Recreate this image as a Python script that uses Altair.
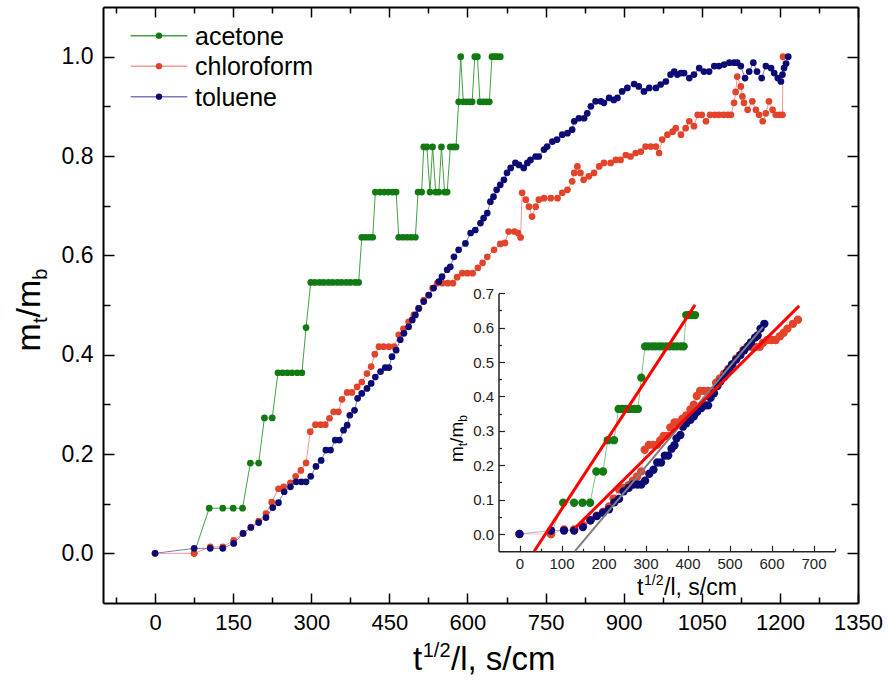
import altair as alt
import pandas as pd

FONT = "Liberation Sans"

series_names = ["acetone", "chloroform", "toluene"]
point_colors = ["#127a12", "#e2432b", "#0b0b73"]
line_colors = ["#44a044", "#f29a90", "#7a7ac0"]

acetone_x = [75, 104, 130, 150, 168, 183, 199, 210, 225, 236, 245, 254, 263, 273, 282, 290,
             299, 307, 316, 324, 333, 341, 350, 358, 367, 375, 384, 391,
             397, 404, 411, 418,
             423, 432, 440, 448, 456, 463,
             468, 476, 484, 492, 500, 505, 512,
             516, 522, 528, 533, 539, 545, 550, 556, 561, 567, 573, 578,
             583, 587, 592, 598, 604, 609, 614, 619, 624, 630, 636, 642, 647, 652, 657, 663]
acetone_y = [0.0, 0.0909, 0.0909, 0.0909, 0.0909, 0.1818, 0.1818, 0.2727, 0.2727,
             0.3636, 0.3636, 0.3636, 0.3636, 0.3636, 0.3636, 0.4545,
             0.5455, 0.5455, 0.5455, 0.5455, 0.5455, 0.5455, 0.5455, 0.5455, 0.5455, 0.5455, 0.5455, 0.5455,
             0.6364, 0.6364, 0.6364, 0.6364,
             0.7273, 0.7273, 0.7273, 0.7273, 0.7273, 0.7273,
             0.6364, 0.6364, 0.6364, 0.6364, 0.6364, 0.7273, 0.7273,
             0.8182, 0.8182, 0.7273, 0.8182, 0.7273, 0.7273, 0.8182, 0.7273, 0.7273, 0.8182, 0.8182, 0.8182,
             0.9091, 1.0, 0.9091, 0.9091, 0.9091, 0.9091, 1.0, 1.0, 0.9091, 0.9091, 0.9091, 0.9091,
             1.0, 1.0, 1.0, 1.0]

chloroform_x = [0, 75, 106, 130, 151, 169, 184, 199, 213, 224, 237, 247, 260, 270, 280, 290,
                298, 308, 318, 327, 335, 343, 352, 359, 369, 378, 388, 397, 407, 415, 422,
                430, 439, 449, 459, 468, 477, 487, 497, 507, 516, 525, 533, 542, 552, 562, 572,
                580, 590, 600, 610, 620, 629, 638, 651, 663, 672, 679, 690, 697, 702,
                705, 712, 718, 724, 731, 737, 747, 760, 773, 782, 792, 801, 805, 811, 817,
                823, 833, 843, 853, 862, 875, 885, 894, 904, 913, 923, 933, 942, 952, 962,
                968, 974, 984, 994, 1000, 1010, 1019, 1026, 1035, 1042, 1050, 1058, 1066,
                1075, 1083, 1092, 1100, 1106, 1112, 1115, 1118, 1125, 1128, 1131, 1138,
                1147, 1154, 1160, 1167, 1173, 1179, 1186, 1192, 1199, 1205, 1206]
chloroform_y = [0.0, 0.0, 0.013, 0.013, 0.026, 0.04, 0.053, 0.065, 0.08, 0.103, 0.13, 0.134,
                0.142, 0.155, 0.167, 0.182,
                0.245, 0.259, 0.259, 0.259, 0.272, 0.285, 0.285, 0.31, 0.324, 0.324, 0.335,
                0.345, 0.362, 0.376, 0.401,
                0.416, 0.416, 0.416, 0.416, 0.44, 0.452, 0.466, 0.48, 0.493, 0.51, 0.52,
                0.534, 0.544, 0.544, 0.544, 0.544,
                0.556, 0.564, 0.564, 0.564, 0.575, 0.585, 0.597, 0.611, 0.623, 0.625,
                0.648, 0.648, 0.645, 0.636,
                0.726, 0.712, 0.698, 0.678, 0.698, 0.712, 0.715, 0.715, 0.715, 0.726,
                0.732, 0.749, 0.766, 0.779, 0.766,
                0.752, 0.759, 0.766, 0.779, 0.786, 0.786, 0.792, 0.792, 0.802, 0.799,
                0.806, 0.809, 0.819, 0.819, 0.819,
                0.806, 0.833, 0.843, 0.849, 0.856, 0.843, 0.856, 0.87, 0.86, 0.883,
                0.883, 0.87, 0.883,
                0.883, 0.883, 0.883, 0.883, 0.883, 0.907, 0.929, 0.96, 0.94, 0.92,
                0.907, 0.893,
                0.91, 0.893, 0.883, 0.87, 0.886, 0.91, 0.893, 0.883, 0.883, 0.883, 1.0]

toluene_x = [0, 75, 106, 130, 151, 169, 184, 199, 213, 226, 237, 248, 260, 271, 281, 290,
             299, 309, 319, 328, 337, 346, 354, 362, 369, 374, 383, 389, 397, 407, 415,
             423, 433, 442, 449, 455, 463, 471, 478, 487, 494, 500, 506, 516, 526, 535,
             545, 551, 561, 567, 574, 583, 596, 606, 615, 625, 631, 638, 644, 650, 656,
             663, 670, 676, 683, 692, 699, 708, 715, 721, 731, 737, 747, 753, 763, 772,
             782, 792, 801, 805, 814, 824, 830, 837, 846, 856, 862, 872, 881, 888, 897,
             907, 920, 929, 939, 949, 962, 971, 981, 990, 997, 1003, 1010, 1016, 1026,
             1035, 1045, 1054, 1064, 1074, 1083, 1093, 1103, 1112, 1118, 1125, 1133,
             1141, 1149, 1156, 1165, 1173, 1183, 1189, 1196, 1202, 1205, 1208, 1212, 1216]
toluene_y = [0.0, 0.01, 0.01, 0.01, 0.02, 0.04, 0.052, 0.062, 0.072, 0.092, 0.102, 0.124,
             0.134, 0.144, 0.144, 0.144,
             0.155, 0.175, 0.187, 0.208, 0.208, 0.228, 0.228, 0.248, 0.258, 0.278, 0.288,
             0.312, 0.322, 0.332, 0.342,
             0.355, 0.366, 0.374, 0.374, 0.396, 0.409, 0.43, 0.443, 0.456, 0.47, 0.48,
             0.493, 0.507, 0.52, 0.534,
             0.547, 0.557, 0.571, 0.577, 0.597, 0.611, 0.624, 0.645, 0.651, 0.665, 0.675,
             0.685, 0.708, 0.718, 0.732,
             0.742, 0.752, 0.766, 0.776, 0.786, 0.782, 0.776, 0.786, 0.792, 0.799, 0.799,
             0.813, 0.819, 0.829, 0.833,
             0.843, 0.846, 0.853, 0.87, 0.876, 0.876, 0.886, 0.9, 0.91, 0.91, 0.907,
             0.917, 0.913, 0.917, 0.93,
             0.937, 0.945, 0.94, 0.93, 0.937, 0.937, 0.944, 0.95, 0.964, 0.97, 0.964,
             0.967, 0.967, 0.957,
             0.964, 0.977, 0.97, 0.97, 0.981, 0.981, 0.984, 0.988, 0.988, 0.988, 0.981,
             0.957,
             0.97, 0.988, 0.97, 0.957, 0.981, 0.977, 0.967, 0.957, 0.95, 0.964, 0.977,
             0.986, 1.0]

# inset: data shown up to these x values
inset_limits = [418, 663, 583]

# fitted straight lines in the inset (acetone, chloroform, toluene)
fit_x0 = [35, 132, 132]
fit_y0 = [-0.05, 0.017, -0.05]
fit_x1 = [418, 666, 580]
fit_y1 = [0.666, 0.663, 0.603]

main_x_domain = [-100, 1350]
main_y_domain = [-0.1, 1.1]
main_x_ticks = list(range(-75, 1351, 75))
main_y_ticks = [round(0.1 * i, 1) for i in range(0, 11)]

inset_x_domain = [-50, 750]
inset_y_domain = [-0.05, 0.7]
inset_x_ticks = list(range(0, 751, 50))
inset_y_ticks = [round(0.05 * i, 2) for i in range(0, 15)]

# ---------------------------------------------------------------- data
rows = []
for name, xs, ys in zip(series_names,
                        [acetone_x, chloroform_x, toluene_x],
                        [acetone_y, chloroform_y, toluene_y]):
    for i, (xv, yv) in enumerate(zip(xs, ys)):
        rows.append({"series": name, "x": xv, "y": yv, "idx": i})
df = pd.DataFrame(rows)

inset_rows = []
for name, lim in zip(series_names, inset_limits):
    sub = df[(df.series == name) & (df.x <= lim)]
    inset_rows.append(sub)
df_inset = pd.concat(inset_rows)

fit_df = pd.DataFrame({"x0": fit_x0, "y0": fit_y0, "x1": fit_x1, "y1": fit_y1,
                       "series": series_names})

W, H = 755, 596

fill_scale = alt.Scale(domain=series_names, range=point_colors)
stroke_scale = alt.Scale(domain=series_names, range=line_colors)

# ---------------------------------------------------------------- main axes
x_major = "datum.value % 150 === 0"
y_major = "round(datum.value * 10) % 2 === 0"

common_axis = dict(domainColor="black", domainWidth=2, tickColor="black", tickWidth=1.5,
                   grid=False, title=None, labelFont=FONT, labelColor="black",
                   labelOverlap=False, labelFlush=False, labelBound=False)

x_bottom = alt.Axis(orient="bottom", values=main_x_ticks, format="d",
                    tickSize={"expr": f"{x_major} ? -10 : -6"},
                    labelExpr=f"{x_major} ? datum.label : ''",
                    labelFontSize=22, labelPadding=19, **common_axis)
y_left = alt.Axis(orient="left", values=main_y_ticks, format=".1f",
                  tickSize={"expr": f"{y_major} ? -11 : -7"},
                  labelExpr=f"{y_major} ? datum.label : ''",
                  labelFontSize=23, labelPadding=21, **common_axis)
x_top = alt.Axis(orient="top", values=main_x_ticks, labels=False,
                 tickSize={"expr": f"{x_major} ? -10 : -6"}, **common_axis)
y_right = alt.Axis(orient="right", values=main_y_ticks, labels=False,
                   tickSize={"expr": f"{y_major} ? -11 : -7"}, **common_axis)

mx_scale = alt.Scale(domain=main_x_domain, nice=False, zero=False)
my_scale = alt.Scale(domain=main_y_domain, nice=False, zero=False)

base = alt.Chart(df)
main_lines = base.mark_line(strokeWidth=1).encode(
    x=alt.X("x:Q", scale=mx_scale, axis=x_bottom),
    y=alt.Y("y:Q", scale=my_scale, axis=y_left),
    stroke=alt.Stroke("series:N", scale=stroke_scale, legend=None),
    detail="series:N",
    order="idx:Q",
)
main_points = base.mark_circle(size=45, opacity=1).encode(
    x=alt.X("x:Q", scale=mx_scale, axis=x_bottom),
    y=alt.Y("y:Q", scale=my_scale, axis=y_left),
    fill=alt.Fill("series:N", scale=fill_scale, legend=None),
)
main = alt.layer(main_lines, main_points)

mirror = base.mark_point(opacity=0).encode(
    x=alt.X("x:Q", scale=mx_scale, axis=x_top),
    y=alt.Y("y:Q", scale=my_scale, axis=y_right),
)

# ---------------------------------------------------------------- inset
ix_major = "datum.value % 100 === 0"
iy_major = "round(datum.value * 100) % 10 === 0"
inset_axis = dict(domainColor="#222222", domainWidth=1.5, tickColor="#222222", tickWidth=1.2,
                  grid=False, title=None, labelFont=FONT, labelColor="#222222",
                  labelOverlap=False, labelFlush=False, labelBound=False, labelFontSize=15)
ix_axis = alt.Axis(orient="bottom", values=inset_x_ticks, format="d", offset=-51.8,
                   tickSize={"expr": f"{ix_major} ? -6 : -3"},
                   labelExpr=f"{ix_major} ? datum.label : ''", labelPadding=11, **inset_axis)
iy_axis = alt.Axis(orient="left", values=inset_y_ticks, format=".1f", offset=-395.5,
                   tickSize={"expr": f"{iy_major} ? -6 : -3"},
                   labelExpr=f"{iy_major} ? datum.label : ''", labelPadding=11, **inset_axis)
ix_scale = alt.Scale(domain=inset_x_domain, range=[395.5, 731.5], nice=False, zero=False)
iy_scale = alt.Scale(domain=inset_y_domain, range=[544.2, 286.2], nice=False, zero=False)

ibase = alt.Chart(df_inset)
inset_lines = ibase.mark_line(strokeWidth=0.8, opacity=0.8).encode(
    x=alt.X("x:Q", scale=ix_scale, axis=ix_axis),
    y=alt.Y("y:Q", scale=iy_scale, axis=iy_axis),
    stroke=alt.Stroke("series:N", scale=stroke_scale, legend=None),
    detail="series:N",
    order="idx:Q",
)
inset_points = ibase.mark_circle(size=70, opacity=1).encode(
    x=alt.X("x:Q", scale=ix_scale, axis=ix_axis),
    y=alt.Y("y:Q", scale=iy_scale, axis=iy_axis),
    fill=alt.Fill("series:N", scale=fill_scale, legend=None),
)
fit_red = alt.Chart(fit_df[fit_df.series != "toluene"]).mark_rule(
    color="#ff0000", strokeWidth=3).encode(
    x=alt.X("x0:Q", scale=ix_scale, axis=ix_axis), x2="x1:Q",
    y=alt.Y("y0:Q", scale=iy_scale, axis=iy_axis), y2="y1:Q",
)
fit_gray = alt.Chart(fit_df[fit_df.series == "toluene"]).mark_rule(
    color="#7f7f7f", strokeWidth=2).encode(
    x=alt.X("x0:Q", scale=ix_scale, axis=ix_axis), x2="x1:Q",
    y=alt.Y("y0:Q", scale=iy_scale, axis=iy_axis), y2="y1:Q",
)
inset = alt.layer(inset_lines, inset_points, fit_gray, fit_red)

# ---------------------------------------------------------------- legend
leg_df = pd.DataFrame({"series": series_names})
leg_y = alt.Y("series:N", scale=alt.Scale(type="point", domain=series_names,
                                          range=[28.7, 89.7], padding=0), axis=None)
leg_lines = alt.Chart(leg_df).mark_rule(strokeWidth=1.6).encode(
    x=alt.value(27.7), x2=alt.value(84.3), y=leg_y,
    stroke=alt.Stroke("series:N", scale=stroke_scale, legend=None),
)
leg_points = alt.Chart(leg_df).mark_circle(size=40, opacity=1).encode(
    x=alt.value(56), y=leg_y,
    fill=alt.Fill("series:N", scale=fill_scale, legend=None),
)
leg_text = alt.Chart(leg_df).mark_text(align="left", baseline="middle", font=FONT,
                                       fontSize=25, color="black", dy=1).encode(
    x=alt.value(92), y=leg_y, text="series:N",
)
legend = alt.layer(leg_lines, leg_points, leg_text)


# ---------------------------------------------------------------- titles
def piece(text, x, y, size, angle=0):
    return alt.Chart(alt.Data(values=[{"k": 0}])).mark_text(
        text=text, font=FONT, fontSize=size, angle=angle, align="left",
        baseline="alphabetic", color="black",
    ).encode(x=alt.value(x), y=alt.value(y))


titles = [
    # main x title
    piece("t", 310, 663, 33), piece("1/2", 319.7, 650, 20), piece("/l, s/cm", 348, 663, 33),
    # main y title
    piece("m", -63, 344.4, 34, 270), piece("t", -56, 316.1, 20, 270),
    piece("/m", -63, 310.5, 34, 270), piece("b", -56, 272.7, 20, 270),
    # inset x title
    piece("t", 534, 588, 23), piece("1/2", 541, 578, 14), piece("/l, s/cm", 561, 588, 23),
    # inset y title
    piece("m", 360, 455, 19, 270), piece("t", 364, 439.2, 12, 270),
    piece("/m", 360, 435.9, 19, 270), piece("b", 364, 414.8, 12, 270),
]

chart = alt.layer(main, mirror, inset, legend, *titles).resolve_scale(
    x="independent", y="independent"
).properties(
    width=W, height=H,
    autosize=alt.AutoSizeParams(type="none"),
    padding={"left": 103, "top": 7, "right": 31, "bottom": 82},
).configure_view(strokeWidth=0)

chart.save("out.html", embed_options={"renderer": "svg", "actions": False})
